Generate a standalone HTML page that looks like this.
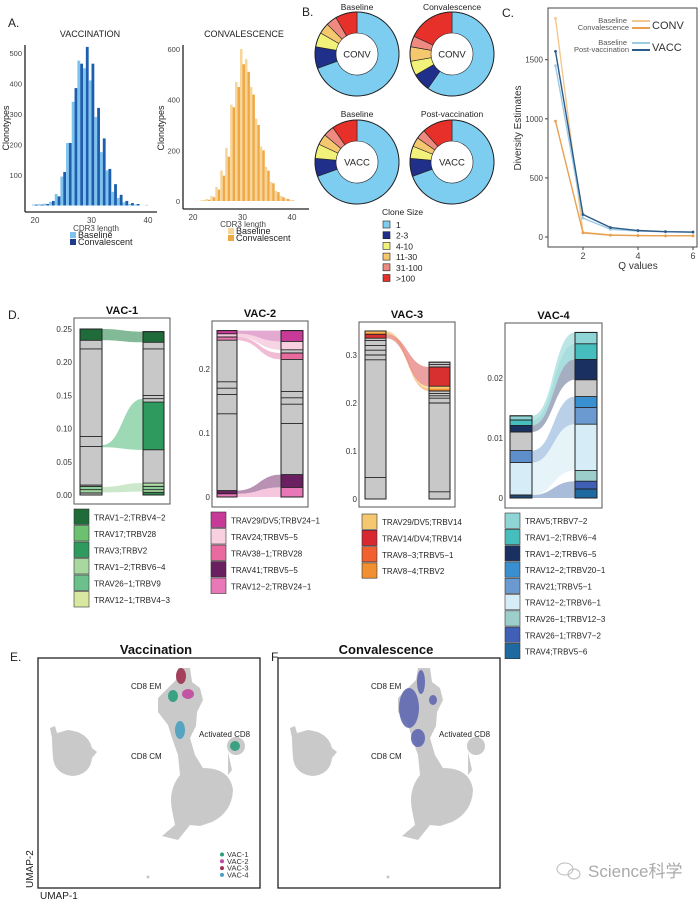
<!DOCTYPE html>
<html><head><meta charset="utf-8">
<style>
html,body{margin:0;padding:0;background:#fff;}
svg{display:block;font-family:"Liberation Sans","Noto Sans CJK SC",sans-serif;}
</style></head>
<body>
<svg id="fig" width="700" height="902" viewBox="0 0 700 902"></svg>
<script>
// ---------- DATA ----------
// Panel A
const cdrLengths = [20,21,22,23,24,25,26,27,28,29,30,31,32,33,34,35,36,37,38,39,40];
const vaccBaseline = [3,4,6,12,38,95,205,340,475,450,410,290,175,115,45,25,10,5,3,0,2];
const vaccConvalescent = [3,3,5,15,30,110,205,385,465,520,465,320,220,120,70,35,15,8,5,0,0];
const convBaseline = [0,1,3,8,20,55,120,210,380,470,600,560,450,325,215,135,75,40,20,10,3];
const convConvalescent = [0,0,2,5,15,45,100,175,370,450,540,510,420,300,200,120,70,35,15,8,2];
const vaccYTicks = [100,200,300,400,500];
const convYTicks = [0,200,400,600];
const cdrXTicks = [20,30,40];
// Panel B (degrees share of each clone-size class)
const cloneClasses = ["1","2-3","4-10","11-30","31-100",">100"];
const donutTitles = ["Baseline","Convalescence","Baseline","Post-vaccination"];
const donutCenters = ["CONV","CONV","VACC","VACC"];
const donutShares = [
  [250,30,20,15,15,30],
  [215,25,20,20,15,65],
  [250,25,20,15,15,35],
  [250,25,17,13,13,42]
];
// Panel C
const qValues = [1,2,3,4,5,6];
const convBaseDiv = [1850,40,18,12,10,10];
const convConvDiv = [980,35,15,12,10,10];
const vaccBaseDiv = [1450,160,65,50,45,40];
const vaccPostDiv = [1570,190,80,55,45,42];
const divYTicks = [0,500,1000,1500];
const qTicks = [2,4,6];
// Panel D: segments [column(0/1), v0, v1, color], lines, flows [l0,l1,r0,r1,color]
const vac1Max = 0.25, vac1Ticks = [0,0.05,0.10,0.15,0.20,0.25], vac1TickLabels=["0.00","0.05","0.10","0.15","0.20","0.25"];
const vac1Segs = [[0,0,0.015,"#cfcfcf"],[0,0.015,0.233,"#c8c8c8"],[0,0.233,0.25,"#1f6b3a"],[0,0.003,0.008,"#9fd49f"],[0,0.008,0.013,"#8ccf9a"],
  [1,0,0.004,"#2e8a50"],[1,0.004,0.008,"#a8d8a0"],[1,0.008,0.013,"#8ccf9a"],[1,0.013,0.018,"#b0dca8"],[1,0.018,0.068,"#c8c8c8"],[1,0.068,0.14,"#2e9a5e"],[1,0.14,0.23,"#c8c8c8"],[1,0.23,0.246,"#1f6b3a"]];
const vac1Lines = [[0,0.003],[0,0.008],[0,0.013],[0,0.015],[0,0.073],[0,0.088],[0,0.22],[0,0.233],[0,0.25],[0,0],
  [1,0],[1,0.004],[1,0.008],[1,0.013],[1,0.018],[1,0.068],[1,0.14],[1,0.145],[1,0.15],[1,0.22],[1,0.23],[1,0.246]];
const vac1Flows = [[0.233,0.25,0.23,0.246,"#2e8a50"],[0.072,0.075,0.068,0.145,"#5cbf84"],[0.004,0.012,0.005,0.018,"#a8d8a8"]];
const vac2Max = 0.26, vac2Ticks=[0,0.1,0.2], vac2TickLabels=["0","0.1","0.2"];
const vac2Segs = [[0,0,0.005,"#e878b8"],[0,0.005,0.01,"#6a1f60"],[0,0.01,0.245,"#c8c8c8"],[0,0.245,0.25,"#e878b0"],[0,0.25,0.255,"#f5c8dc"],[0,0.255,0.26,"#c83a98"],
  [1,0,0.015,"#e878b8"],[1,0.015,0.035,"#6a1f60"],[1,0.035,0.215,"#c8c8c8"],[1,0.215,0.225,"#e86a9e"],[1,0.225,0.23,"#c8c8c8"],[1,0.23,0.243,"#f8d0e0"],[1,0.243,0.26,"#c83a98"]];
const vac2Lines = [[0,0],[0,0.005],[0,0.01],[0,0.13],[0,0.16],[0,0.17],[0,0.18],[0,0.245],[0,0.25],[0,0.255],[0,0.26],
  [1,0],[1,0.015],[1,0.035],[1,0.115],[1,0.145],[1,0.155],[1,0.165],[1,0.215],[1,0.225],[1,0.23],[1,0.243],[1,0.26]];
const vac2Flows = [[0.255,0.26,0.243,0.26,"#d070b0"],[0.25,0.255,0.23,0.243,"#f0b8d0"],[0.245,0.25,0.215,0.225,"#e890b8"],[0.005,0.01,0.015,0.035,"#8a4a80"],[0,0.005,0,0.015,"#f0a0c8"]];
const vac3Max = 0.35, vac3Ticks=[0,0.1,0.2,0.3], vac3TickLabels=["0","0.1","0.2","0.3"];
const vac3Segs = [[0,0,0.335,"#c8c8c8"],[0,0.335,0.343,"#d83030"],[0,0.343,0.347,"#f09030"],[0,0.347,0.35,"#f5c870"],
  [1,0,0.225,"#c8c8c8"],[1,0.225,0.23,"#f09030"],[1,0.23,0.235,"#f5c870"],[1,0.235,0.275,"#d83030"],[1,0.275,0.285,"#c8c8c8"]];
const vac3Lines = [[0,0],[0,0.045],[0,0.29],[0,0.30],[0,0.31],[0,0.32],[0,0.33],[0,0.335],[0,0.343],[0,0.35],
  [1,0],[1,0.015],[1,0.2],[1,0.21],[1,0.215],[1,0.22],[1,0.225],[1,0.235],[1,0.275],[1,0.28],[1,0.285]];
const vac3Flows = [[0.347,0.35,0.23,0.235,"#f5c870"],[0.335,0.343,0.235,0.275,"#e06060"],[0.343,0.347,0.225,0.23,"#f0a050"]];
const vac4Max = 0.0276, vac4Ticks=[0,0.01,0.02], vac4TickLabels=["0","0.01","0.02"];
const vac4Segs = [[0,0,0.0005,"#1f4a78"],[0,0.0005,0.0059,"#d6ecf6"],[0,0.0059,0.0079,"#5e8fcc"],[0,0.0079,0.011,"#c8c8c8"],[0,0.011,0.0121,"#1a3060"],[0,0.0121,0.013,"#46bebe"],[0,0.013,0.0137,"#8fd5d5"],
  [1,0,0.0015,"#1e6aa0"],[1,0.0015,0.0028,"#4060b8"],[1,0.0028,0.0046,"#9ccfcc"],[1,0.0046,0.0123,"#d6ecf6"],[1,0.0123,0.0151,"#6a9ad0"],[1,0.0151,0.0169,"#3a8fd0"],[1,0.0169,0.0197,"#c8c8c8"],[1,0.0197,0.0231,"#1a3060"],[1,0.0231,0.0257,"#46bebe"],[1,0.0257,0.0276,"#8fd5d5"]];
const vac4Lines = [[0,0],[0,0.0005],[0,0.0059],[0,0.0079],[0,0.011],[0,0.0121],[0,0.013],[0,0.0137],
  [1,0],[1,0.0015],[1,0.0028],[1,0.0046],[1,0.0123],[1,0.0151],[1,0.0169],[1,0.0197],[1,0.0231],[1,0.0257],[1,0.0276]];
const vac4Flows = [[0.013,0.0137,0.0257,0.0276,"#8fd5d5"],[0.0121,0.013,0.0231,0.0257,"#70c8c8"],[0.011,0.0121,0.0197,0.0231,"#6a7a9a"],[0.0059,0.0079,0.0123,0.0169,"#8ab0d8"],[0.0005,0.0059,0.0046,0.0123,"#d6ecf6"],[0,0.0005,0,0.0028,"#7090c0"]];
const vac1Legend = [["#1f6b3a","TRAV1\u22122;TRBV4\u22122"],["#6cc070","TRAV17;TRBV28"],["#2e9a5e","TRAV3;TRBV2"],["#a8d8a0","TRAV1\u22122;TRBV6\u22124"],["#6cc08c","TRAV26\u22121;TRBV9"],["#d8e8a0","TRAV12\u22121;TRBV4\u22123"]];
const vac2Legend = [["#c83a98","TRAV29/DV5;TRBV24\u22121"],["#f8d0e0","TRAV24;TRBV5\u22125"],["#e86a9e","TRAV38\u22121;TRBV28"],["#6a1f60","TRAV41;TRBV5\u22125"],["#e878b8","TRAV12\u22122;TRBV24\u22121"]];
const vac3Legend = [["#f5c870","TRAV29/DV5;TRBV14"],["#d82830","TRAV14/DV4;TRBV14"],["#f06030","TRAV8\u22123;TRBV5\u22121"],["#f09030","TRAV8\u22124;TRBV2"]];
const vac4Legend = [["#8fd5d5","TRAV5;TRBV7\u22122"],["#46bebe","TRAV1\u22122;TRBV6\u22124"],["#1a3060","TRAV1\u22122;TRBV6\u22125"],["#3a8fd0","TRAV12\u22122;TRBV20\u22121"],["#6a9ad0","TRAV21;TRBV5\u22121"],["#d6ecf6","TRAV12\u22122;TRBV6\u22121"],["#9ccfcc","TRAV26\u22121;TRBV12\u22123"],["#4060b8","TRAV26\u22121;TRBV7\u22122"],["#1e6aa0","TRAV4;TRBV5\u22126"]];
// Panel E legend
const vacNames = ["VAC-1","VAC-2","VAC-3","VAC-4"];
const vacColors = ["#2a9d7a","#c048a0","#a03050","#4aa0c0"];

// ---------- HELPERS ----------
const NS = "http://www.w3.org/2000/svg";
const svg = document.getElementById("fig");
function mk(tag, attrs, parent){
  const e = document.createElementNS(NS, tag);
  for (const k in attrs) e.setAttribute(k, attrs[k]);
  (parent || svg).appendChild(e);
  return e;
}
function txt(x, y, s, size, opts, parent){
  const a = Object.assign({x:x, y:y, "font-size":size, fill:"#222"}, opts||{});
  const t = mk("text", a, parent);
  t.textContent = s;
  return t;
}
function grp(name){
  const g = mk("g", {});
  
  
  return g;
}

// ---------- PANEL A ----------
function histogram(name, lengths, light, dark, cLight, cDark, X0, xs, Y0, ys, axX, axY0, axY1, axX1, yticks){
  const g = grp(name);
  const xS = L => X0 + (L-20)*xs;
  const yS = v => Y0 - v*ys;
  const bw = xs*0.5;
  lengths.forEach((L,i)=>{
    const b1 = mk("rect",{x:xS(L)-bw, y:yS(light[i]), width:bw, height:light[i]*ys, fill:cLight}, g);
    
    
    const b2 = mk("rect",{x:xS(L), y:yS(dark[i]), width:bw, height:dark[i]*ys, fill:cDark}, g);
    
    
  });
  mk("line",{x1:axX,y1:axY0,x2:axX,y2:axY1,stroke:"#222","stroke-width":1.3},g);
  mk("line",{x1:axX,y1:axY1,x2:axX1,y2:axY1,stroke:"#222","stroke-width":1.3},g);
  yticks.forEach(v=>{
    const t = txt(axX-3, yS(v)+3, String(v), 7.5, {"text-anchor":"end", fill:"#444"}, g);
    
    
  });
  cdrXTicks.forEach(v=>{
    const t = txt(xS(v), axY1+11, String(v), 8, {"text-anchor":"middle", fill:"#444"}, g);
    
    
  });
  return g;
}
txt(8, 27, "A.", 12, {fill:"#222"});
txt(90, 37, "VACCINATION", 9, {"text-anchor":"middle"});
histogram("histogram-vaccination", cdrLengths, vaccBaseline, vaccConvalescent, "#7ec3ee", "#1d5fae", 35, 5.65, 205.5, 0.305, 25, 45, 212, 157, vaccYTicks);
txt(244, 37, "CONVALESCENCE", 9, {"text-anchor":"middle"});
histogram("histogram-convalescence", cdrLengths, convBaseline, convConvalescent, "#f7d59a", "#f0a842", 193, 4.95, 201, 0.2533, 183, 45, 209, 309, convYTicks);
let t;
t = txt(0,0,"Clonotypes",9,{transform:"translate(9,128) rotate(-90)","text-anchor":"middle"});
 
t = txt(0,0,"Clonotypes",9,{transform:"translate(164,128) rotate(-90)","text-anchor":"middle"});
 
txt(96, 231, "CDR3 length", 8, {"text-anchor":"middle", fill:"#444"});
txt(243, 227, "CDR3 length", 8, {"text-anchor":"middle", fill:"#444"});
function legendItem(x,y,c,label,size){
  const g = grp("legend-entry");
  mk("rect",{x:x,y:y-6,width:6,height:6,fill:c},g);
  txt(x+8,y,label,size||9,{},g);
}
legendItem(70,238,"#7ec3ee","Baseline");
legendItem(70,245,"#1e3a8a","Convalescent");
legendItem(228,234,"#f7d59a","Baseline");
legendItem(228,241,"#f0a842","Convalescent");

// ---------- PANEL B ----------
txt(302, 16, "B.", 12, {});
const dCx = [357,452,357,452], dCy = [54,54,162,162];
const dColors = ["#7dcdf0","#1f2f8a","#f2f27a","#f5c870","#ee8a80","#e8302a"];
function arcPath(cx,cy,R,r,a0,a1){
  const rad = a => (a-90)*Math.PI/180;
  const p = (rr,a)=>[cx+rr*Math.cos(rad(a)), cy+rr*Math.sin(rad(a))];
  const lg = (a1-a0)>180?1:0;
  const [x0,y0]=p(R,a0),[x1,y1]=p(R,a1),[x2,y2]=p(r,a1),[x3,y3]=p(r,a0);
  return `M${x0},${y0}A${R},${R} 0 ${lg} 1 ${x1},${y1}L${x2},${y2}A${r},${r} 0 ${lg} 0 ${x3},${y3}Z`;
}
donutShares.forEach((sh,i)=>{
  const g = grp("donut-"+(i+1));
  let a = 0;
  sh.forEach((d,k)=>{
    const s = mk("path",{d:arcPath(dCx[i],dCy[i],42,21,a,a+d),fill:dColors[k],stroke:"#222","stroke-width":0.6},g);
    
    
    a += d;
  });
  mk("circle",{cx:dCx[i],cy:dCy[i],r:42,fill:"none",stroke:"#222","stroke-width":1},g);
  txt(dCx[i], dCy[i]+3.5, donutCenters[i], 9.5, {"text-anchor":"middle"}, g);
  txt(dCx[i], i<2?10:117, donutTitles[i], 8.5, {"text-anchor":"middle"}, g);
});
{
  const g = grp("clone-size-legend");
  txt(382, 215, "Clone Size", 8.5, {}, g);
  cloneClasses.forEach((c,k)=>{
    const y = 221 + k*10.7;
    const r = mk("rect",{x:383,y:y,width:7,height:7,fill:dColors[k],stroke:"#222","stroke-width":0.6},g);
    
    
    txt(396, y+7, c, 8.5, {}, g);
  });
}

// ---------- PANEL C ----------
txt(502, 17, "C.", 12, {});
{
  const g = grp("diversity-chart");
  const yS = v => 237 - v*0.1182;
  const xS = q => 555.5 + (q-1)*27.5;
  mk("rect",{x:548,y:8,width:149,height:239,fill:"#fff",stroke:"#444","stroke-width":1},g);
  divYTicks.forEach(v=>{
    mk("line",{x1:545,y1:yS(v),x2:548,y2:yS(v),stroke:"#444"},g);
    const tt = txt(543, yS(v)+3, String(v), 8, {"text-anchor":"end", fill:"#444"}, g);
     
  });
  qTicks.forEach(q=>{
    mk("line",{x1:xS(q),y1:247,x2:xS(q),y2:250,stroke:"#444"},g);
    const tt = txt(xS(q), 259, String(q), 9, {"text-anchor":"middle", fill:"#444"}, g);
     
  });
  const series = [[convBaseDiv,"#f3c88e","conv-baseline"],[convConvDiv,"#e8a050","conv-convalescence"],[vaccBaseDiv,"#9ccbe6","vacc-baseline"],[vaccPostDiv,"#2e5a88","vacc-post"]];
  series.forEach(([vals,c,n])=>{
    const pts = vals.map((v,i)=>xS(qValues[i])+","+yS(v)).join(" ");
    const l = mk("polyline",{points:pts,fill:"none",stroke:c,"stroke-width":1.4},g);
    
    
    vals.forEach((v,i)=>{
      const p = mk("circle",{cx:xS(qValues[i]),cy:yS(v),r:1.4,fill:c},g);
      
      
    });
  });
  const lg = grp("diversity-legend");
  txt(627, 23, "Baseline", 7.5, {"text-anchor":"end", fill:"#555"}, lg);
  txt(629, 30, "Convalescence", 7.5, {"text-anchor":"end", fill:"#555"}, lg);
  mk("line",{x1:632,y1:21,x2:650,y2:21,stroke:"#f3c88e","stroke-width":2},lg);
  mk("line",{x1:632,y1:28,x2:650,y2:28,stroke:"#e8a050","stroke-width":2},lg);
  txt(652, 29, "CONV", 11, {fill:"#333"}, lg);
  txt(627, 45, "Baseline", 7.5, {"text-anchor":"end", fill:"#555"}, lg);
  txt(629, 52, "Post-vaccination", 7.5, {"text-anchor":"end", fill:"#555"}, lg);
  mk("line",{x1:632,y1:43,x2:650,y2:43,stroke:"#9ccbe6","stroke-width":2},lg);
  mk("line",{x1:632,y1:50,x2:650,y2:50,stroke:"#2e5a88","stroke-width":2},lg);
  txt(652, 51, "VACC", 11, {fill:"#333"}, lg);
}
t = txt(0,0,"Diversity Estimates",10,{transform:"translate(521,128) rotate(-90)","text-anchor":"middle",fill:"#333"});
 
t = txt(638,269,"Q values",10,{"text-anchor":"middle",fill:"#333"});
 

// ---------- PANEL D ----------
txt(8, 319, "D.", 12, {});
function alluvial(name, title, box, cols, y0px, pxPerUnit, ticks, tickLabels, segs, lines, flows){
  const g = grp(name);
  const yS = v => y0px - v*pxPerUnit;
  txt((box[0]+box[2])/2, box[1]-4, title, 11, {"text-anchor":"middle","font-weight":"bold",fill:"#111"}, g);
  mk("rect",{x:box[0],y:box[1],width:box[2]-box[0],height:box[3]-box[1],fill:"#fff",stroke:"#555","stroke-width":1},g);
  ticks.forEach((v,i)=>{
    const tt = txt(box[0]-2, yS(v)+3, tickLabels[i], 8, {"text-anchor":"end", fill:"#333"}, g);
     
  });
  const lx = cols[1], rx = cols[2], mx = (lx+rx)/2;
  flows.forEach(f=>{
    const [a0,a1,b0,b1,c] = f;
    const d = `M${lx},${yS(a1)}C${mx},${yS(a1)} ${mx},${yS(b1)} ${rx},${yS(b1)}L${rx},${yS(b0)}C${mx},${yS(b0)} ${mx},${yS(a0)} ${lx},${yS(a0)}Z`;
    const p = mk("path",{d:d,fill:c,opacity:0.6},g);
    
    
  });
  const colX = [[cols[0],cols[1]],[cols[2],cols[3]]];
  segs.forEach(s=>{
    const [ci,v0,v1,c] = s;
    const r = mk("rect",{x:colX[ci][0],y:yS(v1),width:colX[ci][1]-colX[ci][0],height:(v1-v0)*pxPerUnit,fill:c},g);
    
    
  });
  lines.forEach(l=>{
    const [ci,v] = l;
    mk("line",{x1:colX[ci][0],y1:yS(v),x2:colX[ci][1],y2:yS(v),stroke:"#222","stroke-width":0.9},g);
  });
  [0,1].forEach(ci=>{
    const top = Math.max(...segs.filter(s=>s[0]===ci).map(s=>s[2]));
    mk("rect",{x:colX[ci][0],y:yS(top),width:colX[ci][1]-colX[ci][0],height:top*pxPerUnit,fill:"none",stroke:"#222","stroke-width":1},g);
  });
}
alluvial("alluvial-vac-1","VAC-1",[74,318,170,504],[80,102,143,164],495,664,vac1Ticks,vac1TickLabels,vac1Segs,vac1Lines,vac1Flows);
alluvial("alluvial-vac-2","VAC-2",[212,321,308,507],[217,237,281,303],497,640,vac2Ticks,vac2TickLabels,vac2Segs,vac2Lines,vac2Flows);
alluvial("alluvial-vac-3","VAC-3",[359,322,455,507],[365,386,429,450],499,480,vac3Ticks,vac3TickLabels,vac3Segs,vac3Lines,vac3Flows);
alluvial("alluvial-vac-4","VAC-4",[505,323,602,508],[510,532,575,597],498,6000,vac4Ticks,vac4TickLabels,vac4Segs,vac4Lines,vac4Flows);
function dLegend(name, items, x, y0, step){
  const g = grp(name);
  items.forEach((it,i)=>{
    const y = y0 + i*step;
    const r = mk("rect",{x:x,y:y,width:15,height:step-1,fill:it[0],stroke:"#333","stroke-width":0.6},g);
    
    
    txt(x+20, y+step/2+3, it[1], 8, {fill:"#222"}, g);
  });
}
dLegend("legend-vac-1", vac1Legend, 74, 509, 16.5);
dLegend("legend-vac-2", vac2Legend, 211, 512, 16.5);
dLegend("legend-vac-3", vac3Legend, 362, 514, 16.3);
dLegend("legend-vac-4", vac4Legend, 505, 513, 16.3);

// ---------- PANEL E / F ----------
txt(10, 661, "E.", 12, {});
txt(271, 661, "F.", 12, {});
function umapBase(g, dx){
  mk("rect",{x:38+dx,y:658,width:222,height:230,fill:"#fff",stroke:"#222","stroke-width":1.3},g);
  const gray = "#c9c9c9";
  mk("path",{d:`M${50+dx},728 L${55+dx},726 L${57+dx},733 L${68+dx},730 Q${88+dx},732 ${92+dx},748 L${97+dx},752 L${92+dx},758 Q${90+dx},775 ${72+dx},776 Q${55+dx},774 ${53+dx},758 Q${52+dx},744 ${52+dx},738 Z`,fill:gray},g);
  mk("path",{d:`M${178+dx},668 L${190+dx},668 L${192+dx},682 L${200+dx},688 L${203+dx},700 L${197+dx},712 L${196+dx},726 L${190+dx},738 L${195+dx},755 L${203+dx},768 Q${230+dx},768 ${233+dx},790 Q${232+dx},812 ${212+dx},822 L${200+dx},826 L${190+dx},825 L${178+dx},840 L${162+dx},836 L${175+dx},825 L${172+dx},810 Q${168+dx},790 ${180+dx},775 L${178+dx},755 L${172+dx},738 L${168+dx},725 L${158+dx},712 L${158+dx},698 L${168+dx},688 L${176+dx},680 Z`,fill:gray},g);
  mk("circle",{cx:236+dx,cy:746,r:9,fill:gray},g);
  mk("path",{d:`M${228+dx},752 L${232+dx},770 L${228+dx},775 Z`,fill:gray},g);
  mk("circle",{cx:148+dx,cy:877,r:1.5,fill:gray},g);
  txt(131+dx, 689, "CD8 EM", 8, {fill:"#222"}, g);
  txt(131+dx, 759, "CD8 CM", 8, {fill:"#222"}, g);
  txt(199+dx, 737, "Activated CD8", 8, {fill:"#222"}, g);
}
{
  const g = grp("umap-vaccination");
  umapBase(g, 0);
  txt(156, 654, "Vaccination", 13, {"text-anchor":"middle","font-weight":"bold",fill:"#111"}, g);
  const cl = [[181,676,5,8,vacColors[2]],[173,696,5,6,vacColors[0]],[188,694,6,5,vacColors[1]],[180,730,5,9,vacColors[3]],[235,746,5,5,vacColors[0]]];
  cl.forEach(c=>{
    const e = mk("ellipse",{cx:c[0],cy:c[1],rx:c[2],ry:c[3],fill:c[4],opacity:0.9},g);
    
    
  });
  vacNames.forEach((n,i)=>{
    const y = 857 + i*6.8;
    const d = mk("circle",{cx:222,cy:y-2.5,r:2,fill:vacColors[i]},g);
    
    
    txt(227, y, n, 7.5, {fill:"#333"}, g);
  });
  txt(0,0,"UMAP-2",10,{transform:"translate(33,888) rotate(-90)",fill:"#222"},g);
  txt(40, 899, "UMAP-1", 10, {fill:"#222"}, g);
}
{
  const g = grp("umap-convalescence");
  const dx = 240;
  umapBase(g, dx);
  txt(386, 654, "Convalescence", 13, {"text-anchor":"middle","font-weight":"bold",fill:"#111"}, g);
  const cl = [[181,682,4,12],[169,708,10,20],[178,738,7,9],[193,700,4,5]];
  cl.forEach(c=>{
    const e = mk("ellipse",{cx:c[0]+dx,cy:c[1],rx:c[2],ry:c[3],fill:"#6068b0",opacity:0.9},g);
    
    
  });
}
{
  const g = grp("watermark");
  mk("ellipse",{cx:565,cy:869,rx:8,ry:6,fill:"none",stroke:"#bbb","stroke-width":1},g);
  mk("ellipse",{cx:574,cy:874,rx:6,ry:5,fill:"none",stroke:"#bbb","stroke-width":1},g);
  txt(588, 877, "Science科学", 17, {fill:"#aaa"}, g);
}
</script>
</body></html>
